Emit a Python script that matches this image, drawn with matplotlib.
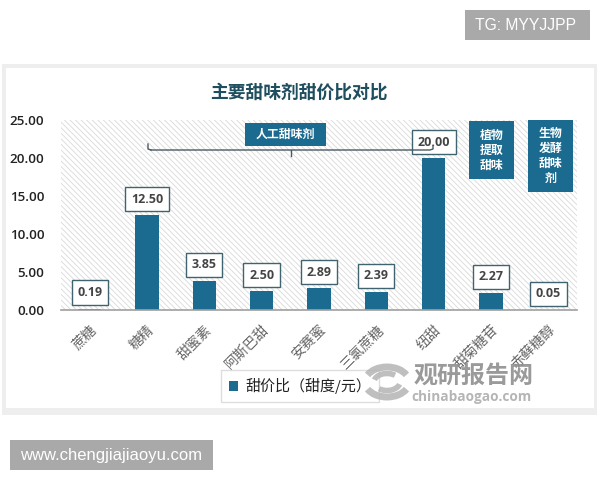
import matplotlib
matplotlib.use("Agg")
import matplotlib.pyplot as plt
from matplotlib.patches import Rectangle, Arc
from matplotlib.transforms import ScaledTranslation

plt.rcParams['font.family'] = ['Noto Sans CJK SC', 'DejaVu Sans']
plt.rcParams['hatch.linewidth'] = 0.6

categories = ['蔗糖', '糖精', '甜蜜素', '阿斯巴甜', '安赛蜜', '三氯蔗糖', '纽甜', '甜菊糖苷', '赤藓糖醇']
values = [0.19, 12.50, 3.85, 2.50, 2.89, 2.39, 20.00, 2.27, 0.05]
yticks = [0, 5, 10, 15, 20, 25]
blue = '#1b6a8f'

fig = plt.figure(figsize=(6, 4.8), dpi=100, facecolor='white')

# pixel sized layer under the chart, for the card and the grey stamps
bg = fig.add_axes([0, 0, 1, 1], zorder=0)
bg.set_xlim(0, 600)
bg.set_ylim(480, 0)
bg.axis('off')
bg.add_patch(Rectangle((2, 64), 595, 351, fc='#eeeeee', ec='none'))
bg.add_patch(Rectangle((6, 68), 588, 340, fc='white', ec='none'))
bg.add_patch(Rectangle((465, 10), 125, 30, fc='#a9a9a9', ec='none'))
bg.text(526, 25.5, 'TG: MYYJJPP', color='white', fontsize=11.3, ha='center', va='center', family='Liberation Sans')
bg.add_patch(Rectangle((10, 440), 203, 30, fc='#a9a9a9', ec='none'))
bg.text(111, 455.5, 'www.chengjiajiaoyu.com', color='white', fontsize=12, ha='center', va='center', family='Liberation Sans')
bg.text(299, 93, '主要甜味剂甜价比对比', color='#1f4e5f', fontsize=12.8, fontweight='bold', ha='center', va='center')

# chart
ax = fig.add_axes([61 / 600, 170 / 480, 516 / 600, 190 / 480], zorder=1)
ax.patch.set_alpha(0)
ax.add_patch(Rectangle((0, 0), 1, 1, transform=ax.transAxes, fc='white', ec='#d9d9d9', lw=0, hatch='\\\\\\\\\\\\', zorder=0))
x = list(range(len(categories)))
ax.bar(x, values, width=0.41, color=blue, zorder=2, label='甜价比（甜度/元）')
ax.set_xlim(-0.5, 8.5)
ax.set_ylim(0, 25)
ax.set_yticks(yticks)
ax.set_yticklabels(['%.2f' % v for v in yticks], fontsize=9.6, color='#222222', family='Open Sans', fontweight='semibold')
ax.set_xticks(x)
ax.set_xticklabels(categories, rotation=45, ha='right', rotation_mode='anchor', fontsize=10, color='#666666')
shift = ScaledTranslation(-4 / 100, 0, fig.dpi_scale_trans)
for lab in ax.get_xticklabels():
    lab.set_transform(lab.get_transform() + shift)
ax.tick_params(length=0)
ax.tick_params(axis='y', pad=12)
ax.tick_params(axis='x', pad=9)
for s in ['top', 'right', 'left']:
    ax.spines[s].set_visible(False)
ax.spines['bottom'].set_color('#a0a0a0')
ax.spines['bottom'].set_linewidth(1.2)
for xi, v in zip(x, values):
    ax.annotate('%.2f' % v, (xi, v), xytext=(0, 11.5), textcoords='offset points', ha='center', va='center',
                fontsize=9, color='#444444', family='Open Sans', fontweight='bold', zorder=4,
                bbox=dict(boxstyle='square,pad=0.45', fc='white', ec='#3f6470', lw=1))
ax.legend(loc='center', bbox_to_anchor=(300 / 600, 94 / 480), bbox_transform=fig.transFigure,
          prop={'size': 10.8}, labelcolor='#222222', handlelength=0.6, handleheight=0.6, handletextpad=0.5,
          borderpad=0.55, fancybox=False, edgecolor='#dddddd', framealpha=1)

# annotation layer, bracket and category tags
top = fig.add_axes([0, 0, 1, 1], zorder=2)
top.set_xlim(0, 600)
top.set_ylim(480, 0)
top.axis('off')
top.plot([148, 148, 151], [144, 149, 150], color='#4a5a62', lw=1)
top.plot([151, 430, 433, 433], [150, 150, 149, 146], color='#4a5a62', lw=1)
top.plot([291, 291], [150, 156], color='#4a5a62', lw=1)
tags = [((245, 123, 81, 23), '人工甜味剂'),
        ((469, 121, 45, 58), '植物\n提取\n甜味'),
        ((528, 120, 45, 72), '生物\n发酵\n甜味\n剂')]
for (tx, ty, tw, th), label in tags:
    top.add_patch(Rectangle((tx, ty), tw, th, fc=blue, ec='none'))
    top.text(tx + tw / 2, ty + th / 2, label, color='white', fontsize=8.6, fontweight='bold', ha='center', va='center', linespacing=1.2)

# watermark
for w, h, t1, t2, lw in [(44, 30, 200, 340, 5), (44, 30, 20, 160, 5), (26, 17, 190, 320, 4), (26, 17, 10, 140, 4)]:
    top.add_patch(Arc((387, 382), w, h, theta1=t1, theta2=t2, color='#b4b4b4', lw=lw, alpha=0.85))
top.text(474, 377, '观研报告网', color='#8f8f8f', fontsize=17.3, fontweight='bold', ha='center', va='center', alpha=0.9)
top.text(472, 397, 'chinabaogao.com', color='#b5b5b5', fontsize=9.8, fontweight='bold', ha='center', va='center', family='Open Sans')

fig.savefig('out.png', dpi=100)
